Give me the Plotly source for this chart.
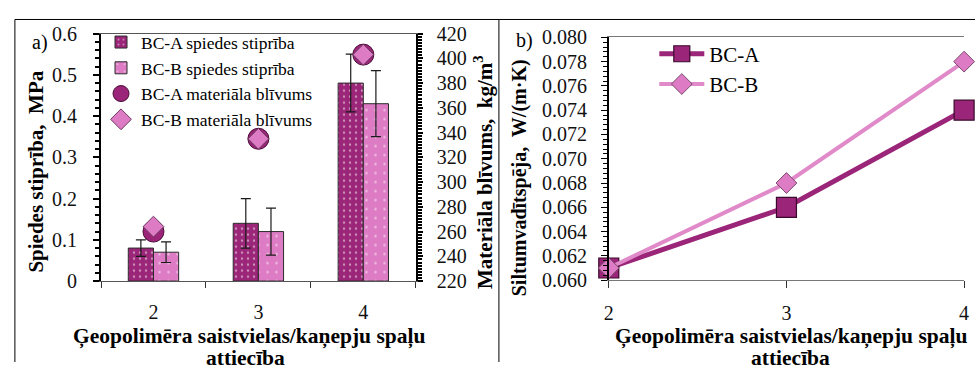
import plotly.graph_objects as go

# Binder / hemp fibre ratio
ratio = [2, 3, 4]
ratio_labels = ["2", "3", "4"]

# Compressive strength, MPa (mean and +/- deviation)
strength_a = [0.08, 0.14, 0.48]
strength_a_err = [0.02, 0.06, 0.07]
strength_b = [0.07, 0.12, 0.43]
strength_b_err = [0.025, 0.057, 0.08]

# Material density, kg/m3
density_a = [260, 335, 403]
density_b = [264, 335, 403]

# Thermal conductivity, W/(m*K)
lambda_a = [0.061, 0.066, 0.074]
lambda_b = [0.061, 0.068, 0.078]

DARK = "#9B2578"
PINK = "#DD7CC4"
SERIF = "Liberation Serif"
W, H = 980, 373


def px_x(v):
    return v / W


def px_y(v):
    return 1 - v / H


fig = go.Figure()

# ---- panel a: bars with error bars + density markers ----
fig.add_trace(go.Bar(
    x=ratio, y=strength_a, name="BC-A spiedes stiprība",
    marker=dict(color=DARK, line=dict(color="#2b2b2b", width=1),
                pattern=dict(shape=".", fgcolor="white", bgcolor=DARK,
                             size=6, solidity=0.12, fillmode="overlay")),
    error_y=dict(type="data", array=strength_a_err, color="#1a1a1a",
                 thickness=1.2, width=5),
    xaxis="x", yaxis="y", legend="legend", legendgroup="a1",
))
fig.add_trace(go.Bar(
    x=ratio, y=strength_b, name="BC-B spiedes stiprība",
    marker=dict(color=PINK, line=dict(color="#2b2b2b", width=1),
                pattern=dict(shape=".", fgcolor="white", bgcolor=PINK,
                             size=9, solidity=0.06, fillmode="overlay")),
    error_y=dict(type="data", array=strength_b_err, color="#1a1a1a",
                 thickness=1.2, width=5),
    xaxis="x", yaxis="y", legend="legend", legendgroup="a2",
))
fig.add_trace(go.Scatter(
    x=ratio, y=density_a, name="BC-A materiāla blīvums", mode="markers",
    marker=dict(symbol="circle", size=21, color=DARK,
                line=dict(color="#4a0f38", width=1)),
    xaxis="x", yaxis="y2", legend="legend", legendgroup="a3", cliponaxis=False,
))
fig.add_trace(go.Scatter(
    x=ratio, y=density_b, name="BC-B materiāla blīvums", mode="markers",
    marker=dict(symbol="diamond", size=16, color=PINK,
                line=dict(color="#6b3a5e", width=1)),
    xaxis="x", yaxis="y2", legend="legend", legendgroup="a4", cliponaxis=False,
))

# ---- panel b: thermal conductivity lines ----
fig.add_trace(go.Scatter(
    x=ratio, y=lambda_a, name="BC-A", mode="lines+markers",
    line=dict(color=DARK, width=5),
    marker=dict(symbol="square", size=20, color=DARK,
                line=dict(color="#3a0a2c", width=1.2)),
    xaxis="x2", yaxis="y5", legend="legend2", cliponaxis=False,
))
fig.add_trace(go.Scatter(
    x=ratio, y=lambda_b, name="BC-B", mode="lines+markers",
    line=dict(color="#E08AC9", width=4),
    marker=dict(symbol="diamond", size=16, color=PINK,
                line=dict(color="#7a4a6c", width=1)),
    xaxis="x2", yaxis="y5", legend="legend2", cliponaxis=False,
))

tickfont = dict(family=SERIF, size=20, color="#111")
dom_xa = [px_x(97), px_x(415)]
dom_ya = [px_y(287), px_y(24)]
dom_xb = [px_x(610), px_x(969)]
dom_yb = [px_y(286), px_y(28)]

base = dict(showgrid=False, zeroline=False)

fig.update_layout(
    width=W, height=H, margin=dict(l=0, r=0, t=0, b=0),
    paper_bgcolor="white", plot_bgcolor="white",
    font=dict(family=SERIF, size=20, color="black"),
    barmode="group", bargap=0.52, bargroupgap=0,
    showlegend=True,
    # panel a axes
    xaxis=dict(**base, domain=dom_xa, anchor="y", range=[1.5, 4.5],
               tickmode="array", tickvals=ratio, ticktext=ratio_labels,
               ticks="", ticklabelstandoff=13, tickfont=tickfont,
               showline=True, linecolor="#555", linewidth=1, mirror=True,
               minor=dict(ticks="outside", ticklen=6, tick0=1.5, dtick=1,
                          tickcolor="#333", tickwidth=1)),
    xaxis3=dict(**base, overlaying="x", anchor="y", range=[1.5, 4.5],
                showticklabels=False, ticks="", showline=False,
                minor=dict(ticks="inside", ticklen=6, tick0=1.5, dtick=1,
                           tickcolor="#333", tickwidth=1)),
    yaxis=dict(**base, domain=dom_ya, anchor="x", range=[0, 0.6],
               tick0=0, dtick=0.1, ticks="outside", ticklen=6, tickwidth=2,
               tickcolor="black", showline=True, linecolor="black",
               linewidth=2, tickfont=tickfont, ticklabelstandoff=12,
               minor=dict(ticks="outside", ticklen=4, tick0=0, dtick=0.02,
                          tickwidth=1.5, tickcolor="black")),
    yaxis3=dict(**base, overlaying="y", anchor="x", range=[0, 0.6],
                tick0=0, dtick=0.1, ticks="inside", ticklen=4, tickwidth=2,
                tickcolor="black", showticklabels=False, showline=False,
                minor=dict(ticks="inside", ticklen=3, tick0=0, dtick=0.02,
                           tickwidth=1.5, tickcolor="black")),
    yaxis2=dict(**base, overlaying="y", side="right", anchor="x",
                range=[220, 420], tick0=220, dtick=20, ticks="outside",
                ticklen=5, tickwidth=2, tickcolor="black", showline=True,
                linecolor="black", linewidth=2, tickfont=tickfont,
                ticklabelstandoff=10,
                minor=dict(ticks="outside", ticklen=4, tick0=220, dtick=2.5,
                           tickwidth=1.5, tickcolor="black")),
    yaxis4=dict(**base, overlaying="y", side="right", anchor="x",
                range=[220, 420], tick0=220, dtick=20, ticks="inside",
                ticklen=5, tickwidth=2, tickcolor="black",
                showticklabels=False, showline=False,
                minor=dict(ticks="inside", ticklen=4, tick0=220, dtick=2.5,
                           tickwidth=1.5, tickcolor="black")),
    # panel b axes
    xaxis2=dict(**base, domain=dom_xb, anchor="y5", range=[2, 4],
                tickmode="array", tickvals=ratio, ticktext=ratio_labels,
                ticks="outside", ticklen=7, tickcolor="#333", tickwidth=1,
                ticklabelstandoff=8, tickfont=tickfont,
                showline=True, linecolor="#777", linewidth=1, mirror=True),
    xaxis4=dict(**base, overlaying="x2", anchor="y5", range=[2, 4],
                tickmode="array", tickvals=ratio, ticks="inside", ticklen=5,
                tickcolor="#333", tickwidth=1, showticklabels=False,
                showline=False),
    yaxis5=dict(**base, domain=dom_yb, anchor="x2", range=[0.06, 0.08],
                tick0=0.06, dtick=0.002, tickformat=".3f", ticks="outside",
                ticklen=6, tickwidth=1.2, tickcolor="black", showline=True,
                linecolor="black", linewidth=1.5, tickfont=tickfont,
                ticklabelstandoff=10,
                minor=dict(ticks="outside", ticklen=4, tick0=0.06,
                           dtick=0.0004, tickwidth=1, tickcolor="black")),
    yaxis6=dict(**base, overlaying="y5", anchor="x2", range=[0.06, 0.08],
                tick0=0.06, dtick=0.002, ticks="inside", ticklen=5,
                tickwidth=1.2, tickcolor="black", showticklabels=False,
                showline=False,
                minor=dict(ticks="inside", ticklen=4, tick0=0.06,
                           dtick=0.0004, tickwidth=1, tickcolor="black")),
    yaxis7=dict(**base, overlaying="y5", side="right", anchor="x2",
                range=[0.06, 0.08], showticklabels=False, ticks="",
                showline=True, linecolor="#777", linewidth=1),
    legend=dict(x=px_x(97), y=px_y(14), xanchor="left", yanchor="top",
                bgcolor="rgba(0,0,0,0)", font=dict(family=SERIF, size=17.5),
                itemwidth=30, tracegroupgap=0, traceorder="normal"),
    legend2=dict(x=px_x(656), y=px_y(24), xanchor="left", yanchor="top",
                 bgcolor="rgba(0,0,0,0)", font=dict(family=SERIF, size=21),
                 itemwidth=45),
)

bold_v = dict(family=SERIF, size=21, color="black", weight="bold")
bold_vb = dict(family=SERIF, size=20, color="black", weight="bold")
bold_h = dict(family=SERIF, size=21.5, color="black", weight="bold")
xtitle_1 = "Ģeopolimēra saistvielas/kaņepju spaļu"
xtitle_2 = "attiecība"
annotations = [
    dict(text="Spiedes stiprība,  MPa", x=px_x(31), y=px_y(171),
         textangle=-90, font=bold_v),
    dict(text="Materiāla blīvums,  kg/m<sup>3</sup>", x=px_x(484),
         y=px_y(171), textangle=-90, font=bold_v),
    dict(text="Siltumvadītspēja,  W/(m·K)", x=px_x(520), y=px_y(177),
         textangle=-90, font=bold_vb),
    dict(text=xtitle_1, x=px_x(247), y=px_y(346), font=bold_h),
    dict(text=xtitle_2, x=px_x(243), y=px_y(369), font=bold_h),
    dict(text=xtitle_1, x=px_x(794), y=px_y(346), font=bold_h),
    dict(text=xtitle_2, x=px_x(794), y=px_y(369), font=bold_h),
    dict(text="a)", x=px_x(35), y=px_y(33),
         font=dict(family=SERIF, size=20, color="black")),
    dict(text="b)", x=px_x(525), y=px_y(31),
         font=dict(family=SERIF, size=20, color="black")),
]
for a in annotations:
    a.update(xref="paper", yref="paper", showarrow=False,
             xanchor="center", yanchor="middle")
fig.update_layout(annotations=annotations)

# outer frame lines around the two panels
frame = dict(type="line", xref="paper", yref="paper",
             line=dict(color="black", width=1))
fig.update_layout(shapes=[
    dict(frame, x0=px_x(10), x1=1, y0=px_y(9), y1=px_y(9)),
    dict(frame, x0=px_x(10), x1=px_x(10), y0=0, y1=px_y(9)),
    dict(frame, x0=px_x(499), x1=px_x(499), y0=0, y1=px_y(9)),
])

fig.write_html("out.html")
